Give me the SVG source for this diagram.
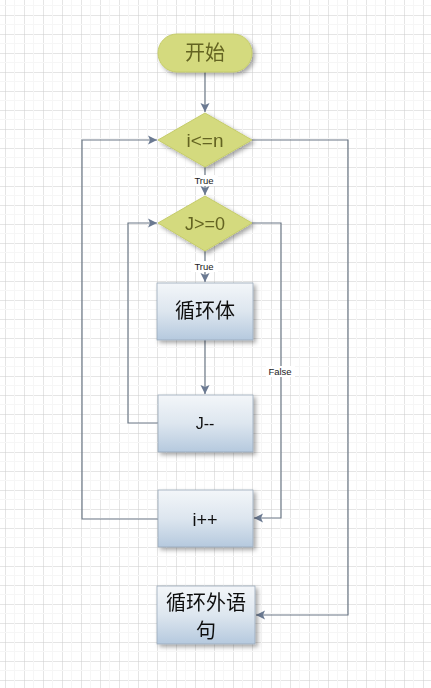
<svg xmlns="http://www.w3.org/2000/svg" width="431" height="688" viewBox="0 0 431 688">
<defs>
  <pattern id="grid" x="5" y="15" width="19" height="19" patternUnits="userSpaceOnUse">
    <path d="M0 0H19M0 0V19" fill="none" stroke="#cbcbcb" stroke-width="1"/>
    <path d="M9.5 0V19M0 9.5H19" fill="none" stroke="#f6f6f6" stroke-width="1"/>
  </pattern>
  <linearGradient id="boxg" x1="0" y1="0" x2="0" y2="1">
    <stop offset="0" stop-color="#f3f6f9"/>
    <stop offset="0.5" stop-color="#dde6ef"/>
    <stop offset="1" stop-color="#b5c9de"/>
  </linearGradient>
  <filter id="sh" x="-20%" y="-20%" width="150%" height="150%">
    <feDropShadow dx="2.5" dy="2.5" stdDeviation="2" flood-color="#000" flood-opacity="0.35"/>
  </filter>
  <marker id="arr" markerWidth="10" markerHeight="10" refX="9" refY="5" orient="auto" markerUnits="userSpaceOnUse">
    <path d="M0 0.5L9 5L0 9.5L2 5Z" fill="#6b7a92"/>
  </marker>
  <style>
    .ln{fill:none;stroke:#6b7785;stroke-width:1.2}
    .dia{fill:#d4da7e;stroke:#c5cc6a;stroke-width:1}
    .term{fill:#d4da7e;stroke:#c5cc6a;stroke-width:1}
    .box{fill:url(#boxg);stroke:#9aa8b8;stroke-width:0.8}
    .yt{font-family:"Liberation Sans","Noto Sans CJK SC",sans-serif;fill:#646422;text-anchor:middle}
    .bt{font-family:"Liberation Sans","Noto Sans CJK SC",sans-serif;fill:#111;text-anchor:middle}
    .lbl{font-family:"Liberation Sans",sans-serif;font-size:9.5px;fill:#222;text-anchor:middle}
  </style>
</defs>
<rect width="431" height="688" fill="#fff"/>
<rect width="431" height="688" fill="url(#grid)"/>

<g id="connectors">
  <path class="ln" d="M205 72V112" marker-end="url(#arr)"/>
  <path class="ln" d="M205 167V195" marker-end="url(#arr)"/>
  <path class="ln" d="M205 251V282" marker-end="url(#arr)"/>
  <path class="ln" d="M205 340V394" marker-end="url(#arr)"/>
  <path class="ln" d="M158 423H128V223H157" marker-end="url(#arr)"/>
  <path class="ln" d="M252 223H281V518H254" marker-end="url(#arr)"/>
  <path class="ln" d="M158 519H82V140H157" marker-end="url(#arr)"/>
  <path class="ln" d="M252 140H348V615H256" marker-end="url(#arr)"/>
  <rect x="191" y="175" width="27" height="11" fill="#fff"/>
  <text class="lbl" x="204" y="184">True</text>
  <rect x="191" y="261" width="27" height="11" fill="#fff"/>
  <text class="lbl" x="204" y="270">True</text>
  <rect x="266" y="366" width="29" height="11" fill="#fff"/>
  <text class="lbl" x="280" y="375">False</text>
</g>

<g id="start" filter="url(#sh)">
  <rect class="term" x="158" y="34" width="94" height="38" rx="19"/>
  <text class="yt" x="205" y="60" font-size="20">开始</text>
</g>

<g id="cond_i" filter="url(#sh)">
  <path class="dia" d="M205 113L252 140L205 167L158 140Z"/>
  <text class="yt" x="205" y="147" font-size="19">i&lt;=n</text>
</g>

<g id="cond_j" filter="url(#sh)">
  <path class="dia" d="M205 196L252 223L205 251L158 223Z"/>
  <text class="yt" x="205" y="230" font-size="18">J&gt;=0</text>
</g>

<g id="body" filter="url(#sh)">
  <rect class="box" x="157" y="283" width="96" height="57"/>
  <text class="bt" x="205" y="318" font-size="20">循环体</text>
</g>

<g id="jdec" filter="url(#sh)">
  <rect class="box" x="158" y="395" width="95" height="57"/>
  <text class="bt" x="205" y="429" font-size="16">J--</text>
</g>

<g id="iinc" filter="url(#sh)">
  <rect class="box" x="158" y="490" width="95" height="57"/>
  <text class="bt" x="205" y="526" font-size="18">i++</text>
</g>

<g id="after" filter="url(#sh)">
  <rect class="box" x="157" y="586" width="98" height="58"/>
  <text class="bt" x="206" y="610" font-size="20">循环外语</text>
  <text class="bt" x="206" y="638" font-size="20">句</text>
</g>
</svg>
